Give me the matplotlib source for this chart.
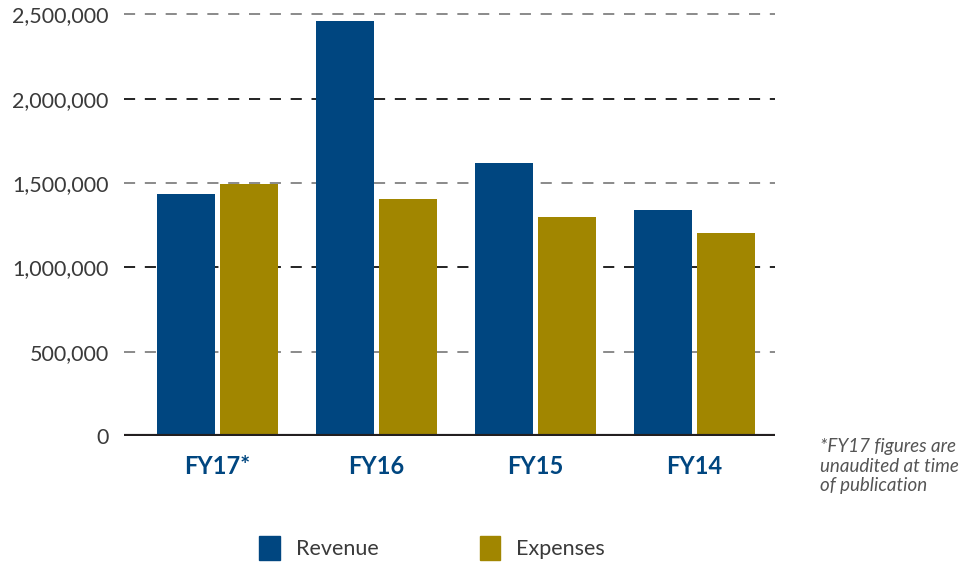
import matplotlib
matplotlib.use("Agg")
import matplotlib.pyplot as plt
from matplotlib.patches import Patch
import numpy as np

plt.rcParams['font.family'] = ['Lato', 'DejaVu Sans']
plt.rcParams['lines.scale_dashes'] = False

# data
years = ['FY17*', 'FY16', 'FY15', 'FY14']
revenue = [1435000, 2461000, 1619000, 1340000]
expenses = [1495000, 1405000, 1299000, 1204000]
ticks = [0, 500000, 1000000, 1500000, 2000000, 2500000]

rev_col = '#004680'
exp_col = '#a18600'

fig = plt.figure(figsize=(9.68, 5.63), dpi=100)
ax = fig.add_axes([124/968, 1-436/563, (775-124)/968, (436-6)/563])

x = np.arange(len(years))
w = 0.365
off = 0.198
ax.bar(x - off, revenue, w, color=rev_col, zorder=3)
ax.bar(x + off, expenses, w, color=exp_col, zorder=3)

ax.set_xlim(-0.588, 3.506)
ax.set_ylim(0, 2550000)

# dashed gridlines, alternating grey / dark
for t in ticks[1:]:
    col = '#222222' if t % 1000000 == 0 else '#8a8a8a'
    ax.axhline(t, color=col, lw=1.4, dashes=(8, 7), zorder=1)
ax.axhline(0, color='#231f20', lw=3, zorder=4)

for s in ax.spines.values():
    s.set_visible(False)

ax.set_yticks(ticks)
ax.set_yticklabels(['{:,}'.format(t) for t in ticks], fontsize=15.5, color='#3a3a3a')
ax.tick_params(axis='y', length=0, pad=11)
ax.set_xticks(x)
ax.set_xticklabels(years, fontsize=17, fontweight='bold', color=rev_col)
ax.tick_params(axis='x', length=0, pad=14)

handles = [Patch(color=rev_col, label='Revenue'), Patch(color=exp_col, label='Expenses')]
fig.legend(handles=handles, loc='center', bbox_to_anchor=(432/968, 1-548/563), ncol=2,
           frameon=False, fontsize=15.5, handlelength=0.95,
           handleheight=1.3, handletextpad=0.75, columnspacing=4.7, labelcolor='#3a3a3a')

fig.text(820/968, 1-466/563, '*FY17 figures are\nunaudited at time\nof publication',
         fontsize=13.5, style='italic', color='#555555',
         va='center', linespacing=1.2)

fig.savefig('out.png', dpi=100)
